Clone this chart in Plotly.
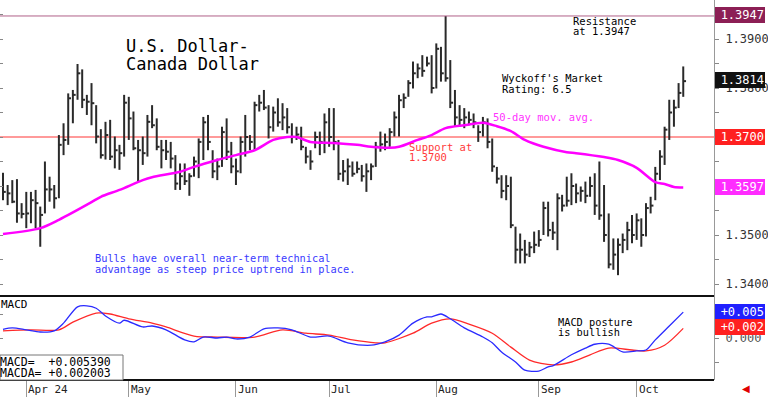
import plotly.graph_objects as go

# ---------------- data ----------------
bar_high = [1.3627,1.3602,1.3612,1.3614,1.3565,1.3588,1.3588,1.3592,1.3558,1.3650,
            1.3619,1.3602,1.3704,1.3728,1.3789,1.3796,1.3849,1.3838,1.3786,1.3810,
            1.3765,1.3716,1.3731,1.3735,1.3701,1.3684,1.3786,1.3782,1.3752,1.3694,
            1.3701,1.3745,1.3765,1.3738,1.3694,1.3694,1.3690,1.3663,1.3646,1.3646,
            1.3626,1.3660,1.3697,1.3741,1.3745,1.3673,1.3656,1.3721,1.3738,1.3690,
            1.3656,1.3701,1.3745,1.3704,1.3772,1.3786,1.3796,1.3765,1.3762,1.3779,
            1.3769,1.3759,1.3728,1.3721,1.3721,1.3680,1.3673,1.3711,1.3711,1.3748,
            1.3759,1.3759,1.3694,1.3653,1.3656,1.3650,1.3650,1.3643,1.3646,1.3646,
            1.3690,1.3711,1.3707,1.3718,1.3752,1.3786,1.3789,1.3816,1.3854,1.3850,
            1.3867,1.3864,1.3867,1.3891,1.3884,1.3947,1.3857,1.3796,1.3765,1.3759,
            1.3752,1.3748,1.3724,1.3741,1.3738,1.3697,1.3639,1.3622,1.3622,1.3619,
            1.3517,1.3503,1.3490,1.3486,1.3507,1.3510,1.3568,1.3568,1.3527,1.3585,
            1.3582,1.3619,1.3626,1.3605,1.3599,1.3609,1.3619,1.3626,1.3650,1.3602,
            1.3544,1.3493,1.3493,1.3503,1.3527,1.3541,1.3544,1.3534,1.3565,1.3578,
            1.3639,1.3673,1.3721,1.3776,1.3776,1.3810,1.3844]
bar_low = [1.3571,1.3561,1.3565,1.3525,1.3534,1.3514,1.3524,1.3514,1.3476,1.3544,
           1.3568,1.3554,1.3575,1.3663,1.3684,1.3728,1.3776,1.3759,1.3745,1.3724,
           1.3687,1.3656,1.3654,1.3653,1.3636,1.3633,1.3660,1.3694,1.3673,1.3609,
           1.3643,1.3660,1.3718,1.3673,1.3636,1.3653,1.3636,1.3592,1.3592,1.3602,
           1.3580,1.3619,1.3616,1.3653,1.3673,1.3616,1.3612,1.3639,1.3653,1.3626,
           1.3602,1.3626,1.3660,1.3673,1.3673,1.3752,1.3755,1.3697,1.3711,1.3721,
           1.3714,1.3707,1.3687,1.3694,1.3673,1.3646,1.3633,1.3677,1.3663,1.3667,
           1.3680,1.3673,1.3612,1.3609,1.3602,1.3619,1.3626,1.3609,1.3588,1.3612,
           1.3639,1.3670,1.3673,1.3680,1.3701,1.3701,1.3759,1.3782,1.3799,1.3820,
           1.3823,1.3844,1.3789,1.3799,1.3813,1.3813,1.3759,1.3721,1.3721,1.3718,
           1.3724,1.3718,1.3690,1.3701,1.3677,1.3629,1.3605,1.3575,1.3571,1.3514,
           1.3442,1.3442,1.3442,1.3455,1.3463,1.3476,1.3500,1.3497,1.3490,1.3469,
           1.3548,1.3558,1.3561,1.3565,1.3568,1.3565,1.3578,1.3541,1.3531,1.3486,
           1.3432,1.3429,1.3418,1.3463,1.3469,1.3483,1.3490,1.3476,1.3497,1.3544,
           1.3571,1.3612,1.3643,1.3694,1.3721,1.3759,1.3782]
bar_close = [1.3588,1.3585,1.3568,1.3544,1.3543,1.3544,1.3571,1.3565,1.3541,1.3593,
             1.3593,1.3575,1.3684,1.3694,1.3779,1.3786,1.3830,1.3776,1.3772,1.3769,
             1.3701,1.3663,1.3704,1.3660,1.3673,1.3667,1.3770,1.3738,1.3677,1.3673,
             1.3667,1.3731,1.3724,1.3680,1.3673,1.3670,1.3656,1.3605,1.3620,1.3610,
             1.3620,1.3650,1.3690,1.3730,1.3690,1.3630,1.3640,1.3710,1.3670,1.3640,
             1.3630,1.3690,1.3700,1.3690,1.3765,1.3770,1.3760,1.3720,1.3750,1.3730,
             1.3740,1.3720,1.3700,1.3705,1.3680,1.3660,1.3650,1.3700,1.3690,1.3730,
             1.3700,1.3690,1.3625,1.3630,1.3640,1.3625,1.3635,1.3620,1.3630,1.3640,
             1.3680,1.3685,1.3690,1.3710,1.3740,1.3775,1.3780,1.3810,1.3830,1.3840,
             1.3835,1.3850,1.3800,1.3880,1.3830,1.3820,1.3770,1.3740,1.3735,1.3740,
             1.3735,1.3730,1.3710,1.3730,1.3690,1.3640,1.3615,1.3590,1.3600,1.3520,
             1.3470,1.3470,1.3460,1.3475,1.3480,1.3490,1.3555,1.3510,1.3505,1.3575,
             1.3560,1.3570,1.3600,1.3585,1.3590,1.3580,1.3600,1.3560,1.3540,1.3500,
             1.3440,1.3460,1.3480,1.3490,1.3510,1.3500,1.3530,1.3500,1.3555,1.3560,
             1.3625,1.3660,1.3715,1.3750,1.3760,1.3790,1.3814]

ma_idx = [0,8,12,19,21,25,30,32,38,41,46,50,54,58,61,63,66,71,76,79,83,85,89,92,95,
          99,103,106,109,112,116,121,123,129,132,136,140,142,144,146]
ma_val = [1.3502,1.3514,1.3531,1.3567,1.3578,1.3592,1.3612,1.3618,1.3629,1.3639,1.3653,
          1.3663,1.3673,1.3694,1.3700,1.3700,1.3690,1.3688,1.3684,1.3680,1.3678,1.3680,
          1.3694,1.3704,1.3718,1.3724,1.3729,1.3722,1.3712,1.3694,1.3680,1.3669,1.3667,
          1.3659,1.3653,1.3637,1.3608,1.3604,1.3598,1.3597]

macd_idx = [0,2,5,8,11,13,16,18,20,22,25,26,30,32,35,39,41,43,46,48,50,53,56,59,62,66,
            70,74,79,82,85,88,91,92,94,96,99,103,105,107,110,112,115,117,118,122,125,
            127,130,133,136,138,140,143,146]
macd_val = [0.0018,0.0021,0.0017,0.00125,0.0015,0.0031,0.0065,0.0067,0.0062,0.0046,
            0.0031,0.0037,0.0023,0.0025,0.0017,-0.0004,-0.0008,0.0002,0.0,0.0002,
            -0.0002,0.0002,0.0019,0.0021,0.0017,0.0002,0.0004,-0.0010,-0.0015,-0.0008,
            0.0006,0.0031,0.0044,0.0044,0.0050,0.0040,0.0021,0.0002,-0.0010,-0.0029,
            -0.0050,-0.0067,-0.0069,-0.0060,-0.0058,-0.0035,-0.0021,-0.0013,-0.0013,
            -0.0029,-0.0027,-0.0025,-0.0004,0.0025,0.00539]
macda_idx = [0,6,12,15,20,23,27,32,35,41,46,54,60,65,70,75,80,82,88,92,96,100,105,109,
             113,118,122,126,130,135,138,142,146]
macda_val = [0.0015,0.0017,0.0017,0.0033,0.0052,0.0050,0.0040,0.0031,0.0023,0.0004,
             0.0002,0.0002,0.0017,0.0010,0.0006,-0.0004,-0.0010,-0.0010,0.0010,0.0031,
             0.0040,0.0029,0.0010,-0.0019,-0.0046,-0.0056,-0.0050,-0.0035,-0.0021,
             -0.0025,-0.0027,-0.0015,0.002003]

month_idx = [5, 27, 50, 70, 93, 115, 136]
month_lbl = ["Apr 24", "May", "Jun", "Jul", "Aug", "Sep", "Oct"]

price_ticks = [1.340,1.345,1.350,1.355,1.360,1.365,1.370,1.375,1.380,1.385,1.390,1.395]
price_tick_text = ["1.3400","","1.3500","","","","","","1.3800","","1.3900",""]
macd_ticks = [-0.005, 0.0, 0.005]
macd_tick_text = ["", "0.000", ""]

resistance = 1.3947
support = 1.3700

# ---------------- figure ----------------
W, H = 768, 397
PW, PH = 714, 380           # plot area in px
SPLIT = 84 / PH             # MACD panel share
FONT = "DejaVu Sans Mono"

xs, ys = [], []
for i, (h, l, c) in enumerate(zip(bar_high, bar_low, bar_close)):
    xs += [i, i, None, i, i + 0.6, None]
    ys += [l, h, None, c, c, None]

fig = go.Figure()
fig.add_trace(go.Scatter(x=xs, y=ys, mode="lines", line=dict(color="#2a2a2a", width=2),
                         hoverinfo="skip", xaxis="x", yaxis="y"))
fig.add_trace(go.Scatter(x=ma_idx, y=ma_val, mode="lines",
                         line=dict(color="#ff00ff", width=2.5, shape="spline", smoothing=0.8),
                         hoverinfo="skip", xaxis="x", yaxis="y"))
fig.add_trace(go.Scatter(x=macda_idx, y=macda_val, mode="lines",
                         line=dict(color="#ff2a2a", width=1.3, shape="spline", smoothing=0.8),
                         hoverinfo="skip", xaxis="x2", yaxis="y2"))
fig.add_trace(go.Scatter(x=macd_idx, y=macd_val, mode="lines",
                         line=dict(color="#2a2aff", width=1.3, shape="spline", smoothing=0.8),
                         hoverinfo="skip", xaxis="x2", yaxis="y2"))

xr = [-0.64, 152.6]
prange = [1.33755, 1.39796]
mrange = [-0.00875, 0.00875]

fig.update_layout(
    width=W, height=H, margin=dict(l=0, r=W - PW, t=0, b=H - PH),
    paper_bgcolor="white", plot_bgcolor="white", showlegend=False,
    font=dict(family=FONT, size=11, color="#333"),
    xaxis=dict(domain=[0, 1], range=xr, anchor="y", showticklabels=False, showgrid=False,
               zeroline=False, ticks=""),
    xaxis2=dict(domain=[0, 1], range=xr, anchor="y2", matches="x", showticklabels=False,
                showgrid=False, zeroline=False, tickvals=month_idx, ticks="outside",
                ticklen=17, tickcolor="#999", tickwidth=1),
    yaxis=dict(domain=[SPLIT, 1], range=prange, side="right", anchor="x",
               tickvals=price_ticks, ticktext=price_tick_text, ticks="outside", ticklen=4,
               tickcolor="#888", showline=True, linecolor="#999", linewidth=1,
               showgrid=False, zeroline=False, ticklabelstandoff=4,
               tickfont=dict(family=FONT, size=12, color="#333")),
    yaxis3=dict(overlaying="y", matches="y", side="left", anchor="x",
                tickvals=price_ticks, showticklabels=False, ticks="inside", ticklen=3,
                tickcolor="#888", showgrid=False, zeroline=False),
    yaxis2=dict(domain=[0, SPLIT], range=mrange, side="right", anchor="x2",
                tickvals=macd_ticks, ticktext=macd_tick_text, ticks="outside", ticklen=4,
                tickcolor="#888", showline=True, linecolor="#999", linewidth=1,
                showgrid=False, zeroline=False, ticklabelstandoff=4,
                tickfont=dict(family=FONT, size=12, color="#555")),
    yaxis4=dict(overlaying="y2", matches="y2", side="left", anchor="x2",
                tickvals=macd_ticks, showticklabels=False, ticks="inside", ticklen=3,
                tickcolor="#888", showgrid=False, zeroline=False),
)
# dummy invisible traces to activate mirror axes
fig.add_trace(go.Scatter(x=[0], y=[1.36], yaxis="y3", xaxis="x", mode="markers",
                         marker=dict(opacity=0), hoverinfo="skip"))
fig.add_trace(go.Scatter(x=[0], y=[0], yaxis="y4", xaxis="x2", mode="markers",
                         marker=dict(opacity=0), hoverinfo="skip"))

# horizontal reference lines
fig.add_shape(type="line", xref="paper", yref="y", x0=0, x1=1, y0=resistance, y1=resistance,
              line=dict(color="#b06088", width=1))
fig.add_shape(type="line", xref="paper", yref="y", x0=0, x1=1, y0=support, y1=support,
              line=dict(color="#ff9a9a", width=2), layer="below")
# panel separators
fig.add_shape(type="line", xref="paper", yref="paper", x0=0, x1=1, y0=SPLIT, y1=SPLIT,
              line=dict(color="#111", width=2))
fig.add_shape(type="line", xref="paper", yref="paper", x0=0, x1=1, y0=0, y1=0,
              line=dict(color="#111", width=2))
# MACD readout box
fig.add_shape(type="rect", xref="paper", yref="paper", x0=0, x1=123 / PW,
              y0=0, y1=1 - 355 / PH, line=dict(color="#777", width=1), fillcolor="white")


def px_ann(text, px, py, size=10, color="black", xanchor="left"):
    fig.add_annotation(text=text, xref="paper", yref="paper", x=px / PW, y=1 - py / PH,
                       xanchor=xanchor, yanchor="middle", showarrow=False,
                       font=dict(family=FONT, size=size, color=color))


px_ann("U.S. Dollar-", 124, 46, 17)
px_ann("Canada Dollar", 124, 64, 17)
px_ann("Resistance", 571, 21, 10.5)
px_ann("at 1.3947", 571, 31, 10.5)
px_ann("Wyckoff's Market", 500, 78, 10.5)
px_ann("Rating: 6.5", 500, 89, 10.5)
px_ann("50-day mov. avg.", 491, 117, 10.5, "#ff33ff")
px_ann("Support at", 407, 147, 10.5, "#ff3a3a")
px_ann("1.3700", 407, 157, 10.5, "#ff3a3a")
px_ann("Bulls have overall near-term technical", 93, 258, 10.3, "#3a3aff")
px_ann("advantage as steep price uptrend in place.", 93, 269, 10.3, "#3a3aff")
px_ann("MACD posture", 556, 322, 10.3)
px_ann("is bullish", 556, 332, 10.3)
px_ann("MACD", -1, 304, 11)
px_ann("MACD=  +0.005390", -2, 362, 11.5)
px_ann("MACDA= +0.002003", -2, 373, 11.5)

# month labels (to the right of each month boundary)
for mi, ml in zip(month_idx, month_lbl):
    fig.add_annotation(text=ml, xref="x2", yref="paper", x=mi, y=-9 / PH, xanchor="left",
                       yanchor="middle", xshift=0, showarrow=False,
                       font=dict(family=FONT, size=11, color="#222"))

# right-hand value boxes
def value_box(text, py, bg):
    fig.add_annotation(text=text, xref="paper", yref="paper", x=715 / PW, y=1 - py / PH,
                       xanchor="left", yanchor="middle", showarrow=False, width=48,
                       align="right", bgcolor=bg, borderpad=1, borderwidth=0,
                       font=dict(family=FONT, size=12, color="white"))

value_box("1.3947", 15, "#8c1f55")
value_box("1.3814", 80, "#111111")
value_box("1.3700", 137, "#ff2020")
value_box("1.3597", 187, "#ff2cff")
value_box("+0.005", 312, "#2020ff")
value_box("+0.002", 327, "#ff2020")

# little red arrow, bottom right
fig.add_annotation(text="◀", xref="paper", yref="paper", x=746 / PW, y=-8 / PH,
                   xanchor="center", yanchor="middle", showarrow=False,
                   font=dict(family="DejaVu Sans", size=10, color="#e00000"))

fig.write_html("out.html", config={"displayModeBar": False},
               post_script="document.body.style.margin='0';document.body.style.overflow='hidden';")
